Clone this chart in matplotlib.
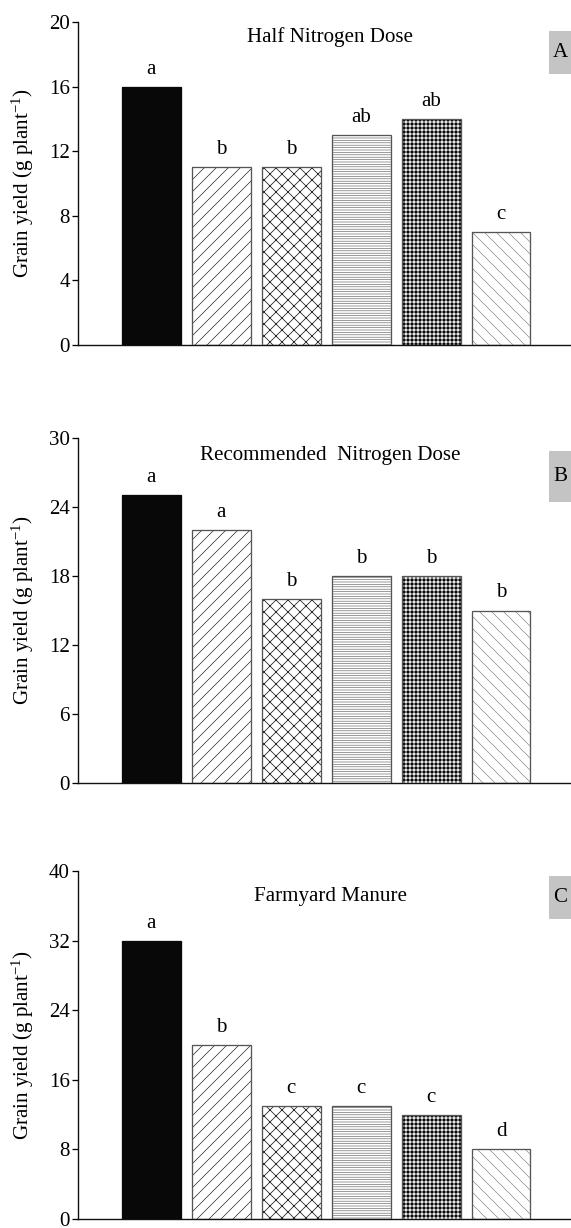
import matplotlib
matplotlib.use("Agg")
import matplotlib.pyplot as plt
from matplotlib.patches import Rectangle

plt.rcParams['font.family'] = ['Liberation Serif', 'DejaVu Serif']
plt.rcParams['mathtext.fontset'] = 'custom'
plt.rcParams['mathtext.rm'] = 'Liberation Serif'
plt.rcParams['mathtext.it'] = 'Liberation Serif:italic'
plt.rcParams['hatch.linewidth'] = 1.0

# ---- data ----
treatments = ["T1", "T2", "T3", "T4", "T5", "T6"]
half_n = [16, 11, 11, 13, 14, 7]
half_n_letters = ["a", "b", "b", "ab", "ab", "c"]
rec_n = [25, 22, 16, 18, 18, 15]
rec_n_letters = ["a", "a", "b", "b", "b", "b"]
fym = [32, 20, 13, 13, 12, 8]
fym_letters = ["a", "b", "c", "c", "c", "d"]

panel_titles = ["Half Nitrogen Dose", "Recommended  Nitrogen Dose", "Farmyard Manure"]
panel_tags = ["A", "B", "C"]
yticks_list = [[0, 4, 8, 12, 16, 20], [0, 6, 12, 18, 24, 30], [0, 8, 16, 24, 32, 40]]
ylabel = "Grain yield (g plant$^{-1}$)"

# ---- styles ----
face_colors = ["#080808", "white", "white", "white", "#080808", "white"]
hatches = [None, "//", "xx", "-----", "+++", "\\\\"]
hatch_colors = ["#080808", "#2a2a2a", "#1a1a1a", "#5a5a5a", "white", "#7a7a7a"]
hatch_lws = [1.0, 0.7, 0.75, 0.6, 0.9, 0.6]
edge_colors = ["#080808", "#555555", "#555555", "#555555", "#555555", "#555555"]

W, H = 571, 1228
fig = plt.figure(figsize=(W / 72, H / 72), dpi=72)

# axes pixel boxes: (top, bottom)
boxes = [(22, 345), (438, 783), (871, 1219)]
title_y = [37, 455, 897]
tag_boxes = [(31, 74), (451, 502), (876, 919)]
left_px = 78
FS = 21

datasets = [half_n, rec_n, fym]
letters_all = [half_n_letters, rec_n_letters, fym_letters]

for i in range(3):
    top, bot = boxes[i]
    ax = fig.add_axes([left_px / W, 1 - bot / H, (W - left_px) / W, (bot - top) / H])
    vals = datasets[i]
    x = list(range(len(treatments)))
    # base fill
    ax.bar(x, vals, width=0.84, color=face_colors, linewidth=0, zorder=2)
    # hatch layer
    for xi, v, h, hc, hlw in zip(x, vals, hatches, hatch_colors, hatch_lws):
        if h:
            with plt.rc_context({'hatch.linewidth': hlw}):
                bc = ax.bar(xi, v, width=0.84, facecolor="none", edgecolor=hc,
                            hatch=h, linewidth=0, zorder=3)
            for p in bc:
                if hasattr(p, "set_hatch_linewidth"):
                    p.set_hatch_linewidth(hlw)
    # outline
    ax.bar(x, vals, width=0.84, facecolor="none", edgecolor=edge_colors,
           linewidth=1.3, zorder=4)
    for xi, v, lt in zip(x, vals, letters_all[i]):
        ax.annotate(lt, (xi, v), xytext=(0, 13), textcoords="offset points",
                    ha="center", va="baseline", fontsize=FS)
    yt = yticks_list[i]
    ax.set_ylim(0, yt[-1])
    ax.set_yticks(yt)
    ax.set_xlim(-1.05, 6.0)
    ax.set_xticks([])
    for s in ["top", "right"]:
        ax.spines[s].set_visible(False)
    for s in ["left", "bottom"]:
        ax.spines[s].set_linewidth(1.4)
        ax.spines[s].set_color("#111111")
    ax.tick_params(axis="y", direction="out", length=6, width=1.3,
                   labelsize=FS, pad=2)
    ax.set_ylabel(ylabel, fontsize=FS)
    ax.yaxis.set_label_coords(-(left_px - 36) / (W - left_px), 0.5)
    ax.set_facecolor("none")
    # title
    fig.text(330 / W, 1 - title_y[i] / H, panel_titles[i], ha="center",
             va="center", fontsize=FS)
    # tag box
    t0, t1 = tag_boxes[i]
    fig.patches.append(Rectangle((549 / W, 1 - t1 / H), 40 / W, (t1 - t0) / H,
                                 transform=fig.transFigure, facecolor="#c4c4c4",
                                 edgecolor="none"))
    fig.text(553 / W, 1 - (t0 + t1) / 2 / H, panel_tags[i], ha="left",
             va="center", fontsize=FS)

fig.savefig("out.png", dpi=72, facecolor="white")
